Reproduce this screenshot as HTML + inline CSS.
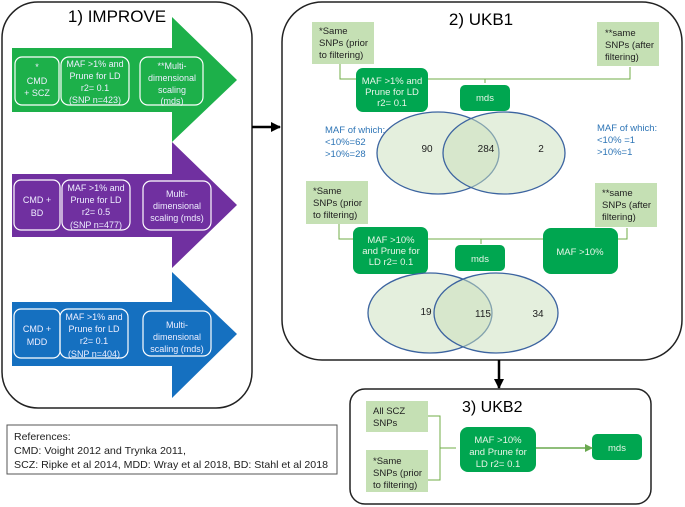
<!DOCTYPE html><html><head><style>body{margin:0;background:#fff}svg{display:block;font-family:"Liberation Sans",sans-serif}</style></head><body>
<svg width="685" height="507" viewBox="0 0 685 507" xmlns="http://www.w3.org/2000/svg">
<defs><marker id="ah" markerUnits="userSpaceOnUse" markerWidth="10" markerHeight="10" refX="9" refY="5" orient="auto"><path d="M0,0L10,5L0,10z" fill="#000"/></marker>
<marker id="ag" markerUnits="userSpaceOnUse" markerWidth="8" markerHeight="8" refX="7" refY="4" orient="auto"><path d="M0,0L8,4L0,8z" fill="#6aa84f"/></marker></defs>
<!-- left -->
<rect x="2" y="2" width="250" height="406" rx="36" fill="#fff" stroke="#222" stroke-width="1.5"/>
<text x="117" y="22" font-size="17" text-anchor="middle">1) IMPROVE</text>
<polygon points="12,48 172,48 172,17 237,80 172,142 172,112 12,112" fill="#1db04a"/>
<polygon points="12,174 172,174 172,142 237,205 172,268 172,237 12,237" fill="#7030a0"/>
<polygon points="12,302 172,302 172,272 237,334 172,398 172,366 12,366" fill="#1570c0"/>
<g fill="none" stroke="#fff" stroke-width="1.2">
<rect x="15" y="57" width="44" height="48" rx="7"/><rect x="61" y="57" width="68" height="48" rx="8"/><rect x="140" y="57" width="63" height="48" rx="8"/>
<rect x="14" y="180" width="46" height="50" rx="7"/><rect x="62" y="180" width="68" height="50" rx="8"/><rect x="143" y="181" width="68" height="49" rx="8"/>
<rect x="14" y="309" width="46" height="49" rx="7"/><rect x="60" y="309" width="68" height="49" rx="8"/><rect x="143" y="311" width="68" height="45" rx="8"/>
</g>
<g fill="#eef" font-size="9" text-anchor="middle">
<text x="37" y="70">*</text><text x="37" y="84">CMD</text><text x="37" y="96">+ SCZ</text>
<text x="95" y="67">MAF &gt;1% and</text><text x="95" y="79">Prune for LD</text><text x="95" y="91">r2= 0.1</text><text x="95" y="103">(SNP n=423)</text>
<text x="172" y="69">**Multi-</text><text x="172" y="81">dimensional</text><text x="172" y="93">scaling</text><text x="172" y="104">(mds)</text>
<text x="37" y="203">CMD +</text><text x="37" y="216">BD</text>
<text x="96" y="191">MAF &gt;1% and</text><text x="96" y="203">Prune for LD</text><text x="96" y="215">r2= 0.5</text><text x="96" y="228">(SNP n=477)</text>
<text x="177" y="197">Multi-</text><text x="177" y="209">dimensional</text><text x="177" y="221">scaling (mds)</text>
<text x="37" y="332">CMD +</text><text x="37" y="345">MDD</text>
<text x="94" y="320">MAF &gt;1% and</text><text x="94" y="332">Prune for LD</text><text x="94" y="344">r2= 0.1</text><text x="94" y="357">(SNP n=404)</text>
<text x="177" y="328">Multi-</text><text x="177" y="340">dimensional</text><text x="177" y="352">scaling (mds)</text>
</g>
<line x1="252" y1="127" x2="280" y2="127" stroke="#000" stroke-width="2.5" marker-end="url(#ah)"/>
<!-- UKB1 -->
<rect x="282" y="2" width="400" height="358" rx="40" fill="#fff" stroke="#222" stroke-width="1.5"/>
<text x="481" y="25" font-size="17" text-anchor="middle">2) UKB1</text>
<g fill="none" stroke="#70ad47" stroke-width="1">
<path d="M340,64V79H630V67M485,79V83"/><path d="M339,224V239H627V228M481,239V244"/>
<path d="M428,416H440V480H428M440,448H456"/></g>
<g fill="#c5e0b4">
<rect x="312" y="22" width="62" height="42"/><rect x="597" y="22" width="62" height="44"/>
<rect x="306" y="181" width="62" height="43"/><rect x="595" y="183" width="62" height="44"/>
<rect x="366" y="401" width="62" height="31"/><rect x="366" y="450" width="62" height="42"/></g>
<g font-size="9.5" fill="#222">
<text x="319" y="34">*Same</text><text x="319" y="46">SNPs (prior</text><text x="319" y="58">to filtering)</text>
<text x="605" y="36">**same</text><text x="605" y="48">SNPs (after</text><text x="605" y="60">filtering)</text>
<text x="313" y="194">*Same</text><text x="313" y="206">SNPs (prior</text><text x="313" y="218">to filtering)</text>
<text x="602" y="196">**same</text><text x="602" y="208">SNPs (after</text><text x="602" y="220">filtering)</text>
<text x="373" y="414">All SCZ</text><text x="373" y="426">SNPs</text>
<text x="373" y="464">*Same</text><text x="373" y="476">SNPs (prior</text><text x="373" y="488">to filtering)</text></g>
<g fill="#00a650">
<rect x="356" y="68" width="72" height="44" rx="7"/><rect x="460" y="85" width="50" height="26" rx="5"/>
<rect x="353" y="227" width="75" height="47" rx="7"/><rect x="455" y="245" width="50" height="26" rx="5"/>
<rect x="543" y="228" width="75" height="46" rx="8"/>
<rect x="460" y="427" width="76" height="45" rx="8"/><rect x="592" y="434" width="50" height="26" rx="5"/></g>
<g fill="#e8f5e8" font-size="9.5" text-anchor="middle">
<text x="392" y="84">MAF &gt;1% and</text><text x="392" y="95">Prune for LD</text><text x="392" y="106">r2= 0.1</text>
<text x="485" y="101">mds</text>
<text x="391" y="243">MAF &gt;10%</text><text x="391" y="254">and Prune for</text><text x="391" y="265">LD r2= 0.1</text>
<text x="480" y="262">mds</text><text x="580" y="255">MAF &gt;10%</text>
<text x="498" y="443">MAF &gt;10%</text><text x="498" y="455">and Prune for</text><text x="498" y="467">LD r2= 0.1</text>
<text x="617" y="451">mds</text></g>
<g stroke="#3c64a0" stroke-width="1.3" fill="#c9dfbb" fill-opacity="0.5">
<ellipse cx="438" cy="153" rx="61" ry="41"/><ellipse cx="504" cy="153" rx="61" ry="41"/>
<ellipse cx="430" cy="313" rx="62" ry="40"/><ellipse cx="496" cy="313" rx="62" ry="40"/></g>
<g font-size="10" fill="#222" text-anchor="middle">
<text x="427" y="152">90</text><text x="486" y="152">284</text><text x="541" y="152">2</text>
<text x="426" y="315">19</text><text x="483" y="317">115</text><text x="538" y="317">34</text></g>
<g font-size="9.5" fill="#2e75b6">
<text x="325" y="133">MAF of which:</text><text x="325" y="145">&lt;10%=62</text><text x="325" y="157">&gt;10%=28</text>
<text x="597" y="131">MAF of which:</text><text x="597" y="143">&lt;10% =1</text><text x="597" y="155">&gt;10%=1</text></g>
<line x1="499" y1="360" x2="499" y2="388" stroke="#000" stroke-width="2.5" marker-end="url(#ah)"/>
<!-- UKB2 -->
<rect x="350" y="389" width="301" height="115" rx="15" fill="none" stroke="#222" stroke-width="1.5"/>
<text x="462" y="412" font-size="16">3) UKB2</text>
<line x1="536" y1="448" x2="592" y2="448" stroke="#6aa84f" stroke-width="1.5" marker-end="url(#ag)"/>
<!-- refs -->
<rect x="7" y="425" width="330" height="49" fill="#fff" stroke="#555"/>
<g font-size="10.5" fill="#222"><text x="14" y="440">References:</text><text x="14" y="454" textLength="172" lengthAdjust="spacingAndGlyphs">CMD: Voight 2012 and Trynka 2011,</text><text x="14" y="468" textLength="314" lengthAdjust="spacingAndGlyphs">SCZ: Ripke et al 2014, MDD: Wray et al 2018, BD: Stahl et al 2018</text></g>
</svg></body></html>
